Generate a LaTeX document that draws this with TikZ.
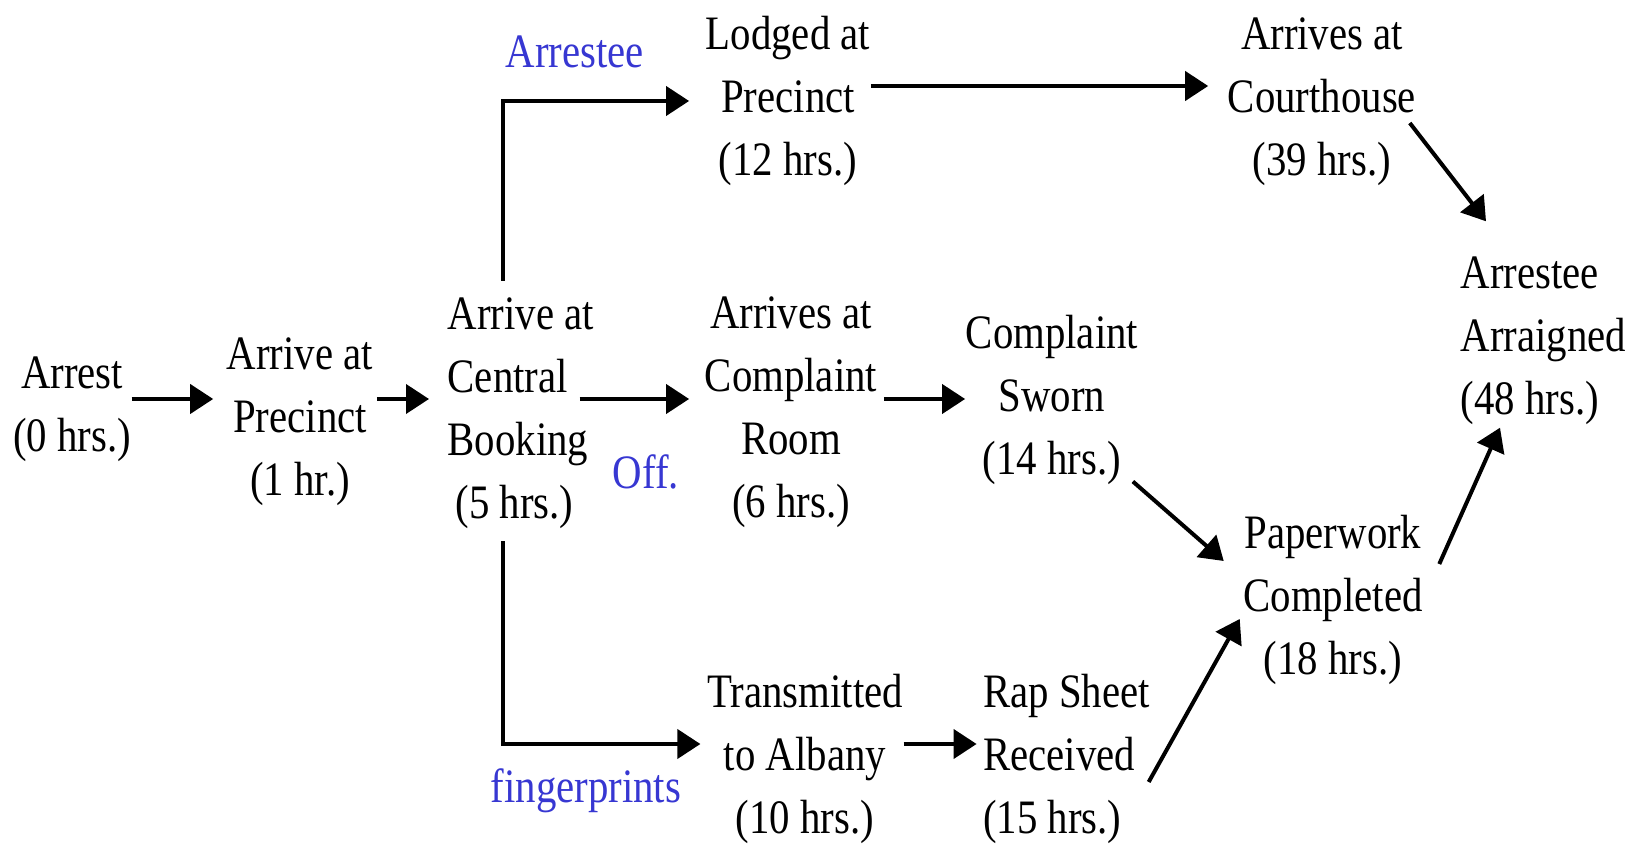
\documentclass[tikz,border=0pt]{standalone}
\usepackage{fontspec}
\setmainfont{Liberation Serif}[FakeStretch=0.85]
\usetikzlibrary{arrows.meta,calc}

\definecolor{lblblue}{RGB}{55,55,210}

\tikzset{every picture/.style={line width=0.75pt}}
\tikzset{
	stage/.style={inner sep=0pt, align=center, font=\fontsize{24}{31.5}\selectfont},
	stageleft/.style={stage, align=left, anchor=west},
	branch/.style={inner sep=0pt, text=lblblue, font=\fontsize{24}{31.5}\selectfont},
	arr/.style={line width=2pt, -{Triangle[length=11.5pt,width=14.5pt]}},
}

\begin{document}
\begin{tikzpicture}[x=0.5pt,y=0.5pt,yscale=-1,xscale=1]
	\useasboundingbox (0,0) rectangle (1639,844);

	% Text Node
	\draw (72,409) node (arrest) [stage] {Arrest\\(0 hrs.)};
	% Text Node
	\draw (300,422) node (precinct1) [stage] {Arrive at\\Precinct\\(1 hr.)};
	% Text Node
	\draw (447,413) node (central) [stageleft] {Arrive at\\Central\\Booking\\\hspace*{4pt}(5 hrs.)};
	% Text Node
	\draw (788,101) node (lodged) [stage] {Lodged at\\Precinct\\(12 hrs.)};
	% Text Node
	\draw (1322,102) node (courthouse) [stage] {Arrives at\\Courthouse\\(39 hrs.)};
	% Text Node
	\draw (1460,341) node (arraigned) [stageleft] {Arrestee\\Arraigned\\(48 hrs.)};
	% Text Node
	\draw (791,412) node (room) [stage] {Arrives at\\Complaint\\Room\\(6 hrs.)};
	% Text Node
	\draw (1052,400) node (sworn) [stage] {Complaint\\Sworn\\(14 hrs.)};
	% Text Node
	\draw (1333,600) node (paperwork) [stage] {Paperwork\\Completed\\(18 hrs.)};
	% Text Node
	\draw (805,759) node (transmitted) [stage] {Transmitted\\to Albany\\(10 hrs.)};
	% Text Node
	\draw (982.6,759) node (rapsheet) [stageleft] {Rap Sheet\\Received\\(15 hrs.)};

	% Branch labels
	\draw (575,52) node (lblarrestee) [branch] {Arrestee};
	\draw (646,472) node (lbloff) [branch] {Off.};
	\draw (586,791) node (lblfinger) [branch] {fingerprints};

	% rows of the straight arrows
	\coordinate (toprow) at (0,86);
	\coordinate (midrow) at (0,399);
	\coordinate (botrow) at (0,744);

	%Straight Lines
	\draw [arr, shorten >=6.5pt] (arrest.east |- midrow) -- (precinct1.west |- midrow);
	\draw [arr, shorten <=1.5pt, shorten >=9pt] (precinct1.east |- midrow) -- (central.west |- midrow);
	\draw [arr, shorten <=-7.5pt, shorten >=7.5pt] (central.east |- midrow) -- (room.west |- midrow);
	\draw [arr, shorten <=3pt] (room.east |- midrow) -- (sworn.west |- midrow);
	\draw [arr, shorten >=9.5pt] (lodged.east |- toprow) -- (courthouse.west |- toprow);
	\draw [arr, shorten >=3pt] (transmitted.east |- botrow) -- (rapsheet.west |- botrow);

	%Elbow Lines
	\draw [arr, shorten >=8pt] ($(central.north west)+(56,-16)$) |- (lodged.west);
	\draw [arr, shorten >=3pt] ($(central.south west)+(56,12)$) |- (transmitted.west |- botrow);

	%Slanted Lines
	\draw [arr] ($(courthouse.east)+(-7,21)$) -- ($(arraigned.north west)+(26,-35)$);
	\draw [arr] ($(sworn.south east)+(-6,-4)$) -- ($(paperwork.west)+(-19,-39)$);
	\draw [arr] ($(rapsheet.east)+(-2,23)$) -- ($(paperwork.west)+(-3,19)$);
	\draw [arr] ($(paperwork.east)+(16,-36)$) -- ($(arraigned.south west)+(40,2)$);

\end{tikzpicture}
\end{document}
